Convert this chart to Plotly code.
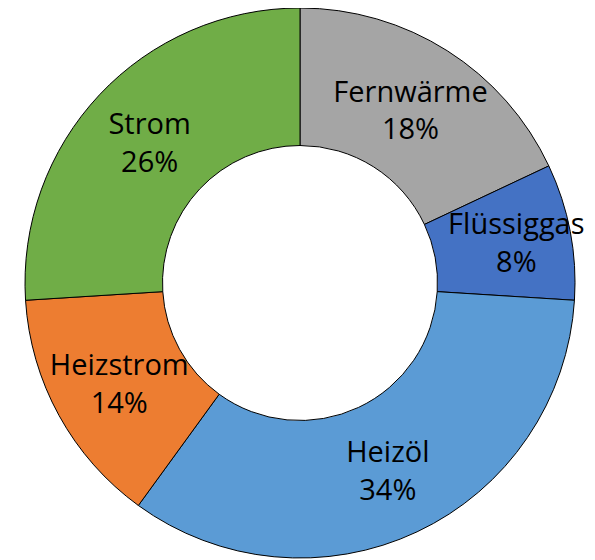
import plotly.graph_objects as go

labels = ["Fernwärme", "Flüssiggas", "Heizöl", "Heizstrom", "Strom"]
values = [18, 8, 34, 14, 26]
colors = ["#A5A5A5", "#4472C4", "#5B9BD5", "#ED7D31", "#70AD47"]

fig = go.Figure(
    go.Pie(
        labels=labels,
        values=values,
        hole=0.5,
        sort=False,
        direction="clockwise",
        rotation=0,
        marker={"colors": colors, "line": {"color": "#000000", "width": 1}},
        textinfo="label+percent",
        texttemplate="%{label}<br>%{percent:.0%}",
        textposition="inside",
        insidetextorientation="horizontal",
        textfont={"family": "Open Sans, Liberation Sans, Arial", "size": 29, "color": "#000000"},
        showlegend=False,
    )
)

fig.update_layout(
    width=595,
    height=560,
    margin={"l": 16, "r": 27, "t": 0, "b": 10},
    paper_bgcolor="#FFFFFF",
    uniformtext={"minsize": 29, "mode": "show"},
)

fig.write_html("out.html")
